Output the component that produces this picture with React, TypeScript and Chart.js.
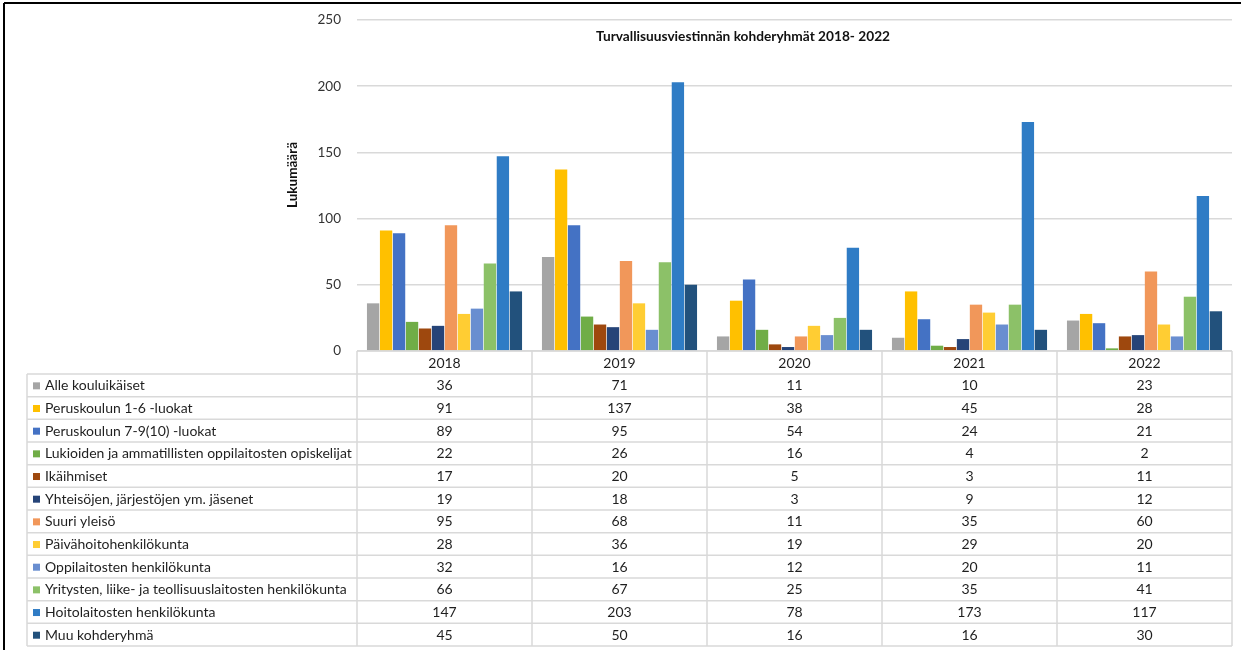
import React, { useEffect, useRef } from "react";
import { Chart, registerables } from "chart.js";

Chart.register(...registerables);

const years = ["2018", "2019", "2020", "2021", "2022"];
const seriesNames = [
  "Alle kouluikäiset",
  "Peruskoulun 1-6 -luokat",
  "Peruskoulun 7-9(10) -luokat",
  "Lukioiden ja ammatillisten oppilaitosten opiskelijat",
  "Ikäihmiset",
  "Yhteisöjen, järjestöjen ym. jäsenet",
  "Suuri yleisö",
  "Päivähoitohenkilökunta",
  "Oppilaitosten henkilökunta",
  "Yritysten, liike- ja teollisuuslaitosten henkilökunta",
  "Hoitolaitosten henkilökunta",
  "Muu kohderyhmä",
];
const alleKouluikaiset = [36, 71, 11, 10, 23];
const peruskoulu16 = [91, 137, 38, 45, 28];
const peruskoulu79 = [89, 95, 54, 24, 21];
const lukiot = [22, 26, 16, 4, 2];
const ikaihmiset = [17, 20, 5, 3, 11];
const yhteisot = [19, 18, 3, 9, 12];
const suuriYleiso = [95, 68, 11, 35, 60];
const paivahoito = [28, 36, 19, 29, 20];
const oppilaitosHenk = [32, 16, 12, 20, 11];
const yritykset = [66, 67, 25, 35, 41];
const hoitolaitokset = [147, 203, 78, 173, 117];
const muu = [45, 50, 16, 16, 30];
const seriesValues = [
  alleKouluikaiset, peruskoulu16, peruskoulu79, lukiot, ikaihmiset, yhteisot,
  suuriYleiso, paivahoito, oppilaitosHenk, yritykset, hoitolaitokset, muu,
];
const seriesColors = [
  "#A5A5A5", "#FFC000", "#4472C4", "#70AD47", "#9E480E", "#264478",
  "#F1975A", "#FFCD33", "#698ED0", "#8CC168", "#2F7CC5", "#22517C",
];
const yTicks = [0, 50, 100, 150, 200, 250];
const chartTitle = "Turvallisuusviestinnän kohderyhmät 2018- 2022";
const yTitle = "Lukumäärä";

const FONT = "Lato, 'Open Sans', sans-serif";

const tablePlugin = {
  id: "tableDecor",
  afterDraw(chart: any) {
    const ctx = chart.ctx as CanvasRenderingContext2D;
    const xs = chart.scales.x;
    const area = chart.chartArea;
    const left = xs.left;
    const right = xs.right;
    const colW = (right - left) / years.length;
    const headerTop = area.bottom;
    const rowTop = 374;
    const rowH = 22.67;
    const tableBottom = rowTop + rowH * seriesNames.length;
    const labelLeft = 27;

    ctx.save();
    // outer frame (top & left)
    ctx.strokeStyle = "#000";
    ctx.lineWidth = 2;
    ctx.beginPath();
    ctx.moveTo(4, 3);
    ctx.lineTo(1241, 3);
    ctx.moveTo(4, 3);
    ctx.lineTo(4, 650);
    ctx.stroke();

    // title
    ctx.fillStyle = "#111";
    ctx.font = `bold 13.7px ${FONT}`;
    ctx.textAlign = "center";
    ctx.textBaseline = "middle";
    ctx.fillText(chartTitle, 743, 37);

    // y title
    ctx.save();
    ctx.translate(293, 175);
    ctx.rotate(-Math.PI / 2);
    ctx.font = `bold 13.5px ${FONT}`;
    ctx.fillText(yTitle, 0, 0);
    ctx.restore();

    // table grid
    ctx.strokeStyle = "#D9D9D9";
    ctx.lineWidth = 1.5;
    ctx.beginPath();
    ctx.moveTo(left, headerTop);
    ctx.lineTo(right, headerTop);
    for (let i = 0; i <= seriesNames.length; i++) {
      const y = rowTop + i * rowH;
      ctx.moveTo(labelLeft, y);
      ctx.lineTo(right, y);
    }
    for (let c = 0; c <= years.length; c++) {
      const x = left + c * colW;
      ctx.moveTo(x, headerTop);
      ctx.lineTo(x, tableBottom);
    }
    ctx.moveTo(labelLeft, rowTop);
    ctx.lineTo(labelLeft, tableBottom);
    ctx.stroke();

    // header years
    ctx.fillStyle = "#1f1f1f";
    ctx.font = `14px ${FONT}`;
    ctx.textAlign = "center";
    ctx.textBaseline = "middle";
    years.forEach((yr, c) => {
      ctx.fillText(yr, xs.getPixelForValue(c), (headerTop + rowTop) / 2 + 0.5);
    });

    // rows
    seriesNames.forEach((name, r) => {
      const cy = rowTop + r * rowH + rowH / 2 + 0.5;
      ctx.fillStyle = seriesColors[r];
      ctx.fillRect(33, cy - 3.5, 7, 7);
      ctx.fillStyle = "#1f1f1f";
      ctx.textAlign = "left";
      ctx.font = `14px ${FONT}`;
      ctx.fillText(name, 45, cy);
      ctx.textAlign = "center";
      ctx.font = `14px ${FONT}`;
      seriesValues[r].forEach((v, c) => {
        ctx.fillText(String(v), xs.getPixelForValue(c), cy);
      });
    });
    ctx.restore();
  },
};

export default function App() {
  const ref = useRef<HTMLCanvasElement | null>(null);
  useEffect(() => {
    if (!ref.current) return;
    const chart = new Chart(ref.current, {
      type: "bar",
      data: {
        labels: years,
        datasets: seriesNames.map((name, i) => ({
          label: name,
          data: seriesValues[i],
          backgroundColor: seriesColors[i],
          borderWidth: 0,
          categoryPercentage: 0.89,
          barPercentage: 0.95,
        })),
      },
      options: {
        animation: false,
        responsive: false,
        maintainAspectRatio: false,
        layout: { padding: { left: 0, right: 9, top: 20, bottom: 299 } },
        plugins: {
          legend: { display: false },
          title: { display: false },
          tooltip: { enabled: false },
        },
        scales: {
          x: { display: false },
          y: {
            min: 0,
            max: 250,
            afterFit(scale: any) {
              scale.width = 357;
              scale.paddingTop = 0;
              scale.paddingBottom = 0;
            },
            afterBuildTicks(scale: any) {
              scale.ticks = yTicks.map((v) => ({ value: v }));
            },
            border: { display: false },
            grid: { color: "#D9D9D9", lineWidth: 1.5, drawTicks: false },
            ticks: {
              padding: 16,
              color: "#333333",
              font: { family: FONT, size: 13.5 },
            },
          },
        },
      },
      plugins: [tablePlugin],
    });
    return () => chart.destroy();
  }, []);
  return (
    <div style={{ position: "absolute", left: 0, top: 0, width: 1241, height: 650, background: "#fff" }}>
      <canvas ref={ref} width={1241} height={650} style={{ width: 1241, height: 650, display: "block" }} />
    </div>
  );
}
